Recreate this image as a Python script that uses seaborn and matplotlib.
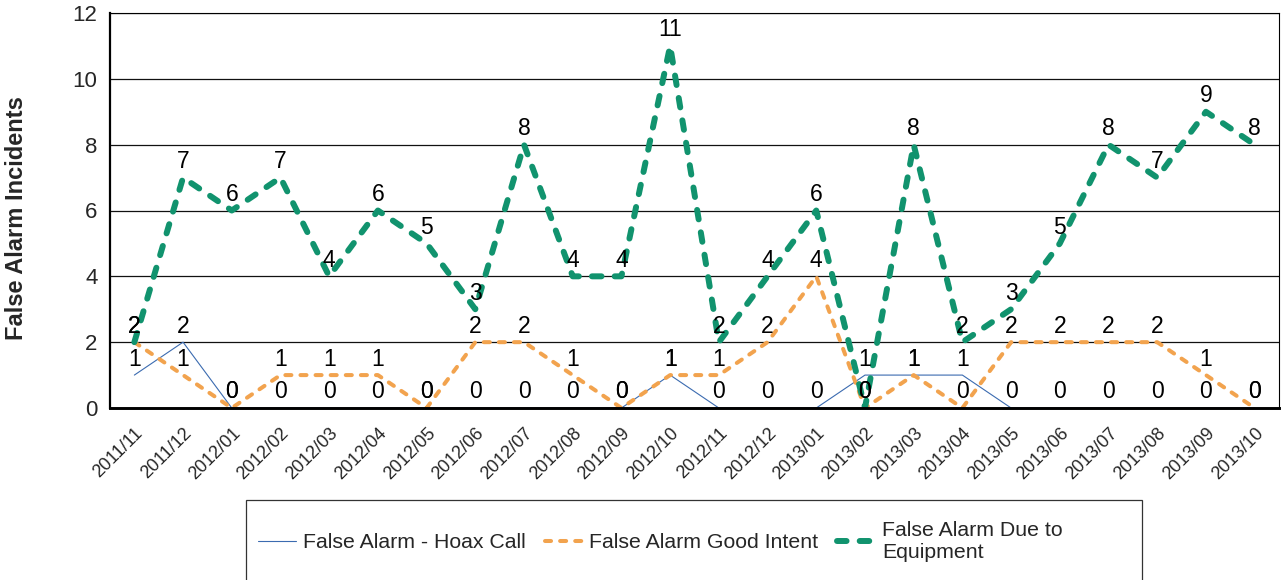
import matplotlib
matplotlib.use("Agg")
import matplotlib.pyplot as plt
import seaborn as sns
from matplotlib.patches import Rectangle

# datos
meses = ["2011/11", "2011/12", "2012/01", "2012/02", "2012/03", "2012/04",
         "2012/05", "2012/06", "2012/07", "2012/08", "2012/09", "2012/10",
         "2012/11", "2012/12", "2013/01", "2013/02", "2013/03", "2013/04",
         "2013/05", "2013/06", "2013/07", "2013/08", "2013/09", "2013/10"]
hoax_call = [1, 2, 0, 0, 0, 0, 0, 0, 0, 0, 0, 1,
             0, 0, 0, 1, 1, 1, 0, 0, 0, 0, 0, 0]
good_intent = [2, 1, 0, 1, 1, 1, 0, 2, 2, 1, 0, 1,
               1, 2, 4, 0, 1, 0, 2, 2, 2, 2, 1, 0]
equipment = [2, 7, 6, 7, 4, 6, 5, 3, 8, 4, 4, 11,
             2, 4, 6, 0, 8, 2, 3, 5, 8, 7, 9, 8]

series = [
    ("False Alarm - Hoax Call", hoax_call, "#3B6BB0", 0.8, None),
    ("False Alarm Good Intent", good_intent, "#F2A34E", 2.9, (1.5, 2.25)),
    ("False Alarm Due to\nEquipment", equipment, "#11936E", 4.3, (1.6, 2.2)),
]

sns.set_style("white")
plt.rcParams["font.family"] = ["Liberation Sans", "DejaVu Sans"]

W, H = 1283, 580
fig = plt.figure(figsize=(W / 100, H / 100), dpi=100)
ax = fig.add_axes([110 / W, 1 - 408 / H, 1169 / W, 395 / H])

pos = list(range(len(meses)))
for nombre, valores, color, lw, dashes in series:
    sns.lineplot(x=pos, y=valores, color=color, linewidth=lw, label=nombre, ax=ax)
    linea = ax.lines[-1]
    if dashes is not None:
        linea.set_dashes(dashes)
        linea.set_dash_capstyle("round")

# etiquetas de datos
for nombre, valores, color, lw, dashes in series:
    for i, v in enumerate(valores):
        ax.annotate(str(v), (i, v), xytext=(0, 16), textcoords="offset pixels",
                    ha="center", va="center", fontsize=16.5, color="black")

ax.set_xlim(-0.5, len(meses) - 0.5)
ax.set_ylim(0, 12)
ax.set_yticks(range(0, 13, 2))
ax.set_xticks(pos)
ax.set_xticklabels(meses, rotation=45, ha="right", rotation_mode="anchor",
                   fontsize=13)
ax.tick_params(axis="y", length=0, pad=9, labelsize=16)
ax.tick_params(axis="x", direction="in", length=4, color="#c8c8c8", pad=12)
ax.yaxis.grid(True, color="#111111", linewidth=0.9)
ax.set_axisbelow(True)

for lado, ancho in [("left", 1.6), ("bottom", 2.1), ("right", 0.8), ("top", 0.8)]:
    ax.spines[lado].set_visible(True)
    ax.spines[lado].set_color("black")
    ax.spines[lado].set_linewidth(ancho)

ax.set_xlabel("")
ax.set_ylabel("False Alarm Incidents", fontsize=17, fontweight="bold")
ax.yaxis.set_label_coords((28 - 110) / 1169, 0.48)

ax.legend(loc="center left", bbox_to_anchor=(258 / W, 39 / H),
          bbox_transform=fig.transFigure, ncol=3, frameon=False, fontsize=15.3,
          handlelength=1.8, handletextpad=0.3, columnspacing=0.9,
          borderpad=0, borderaxespad=0)

fig.add_artist(Rectangle((246 / W, -0.1), 896 / W, 0.1 + 80 / H,
                         transform=fig.transFigure, fill=False,
                         edgecolor="#333333", linewidth=0.9))

fig.savefig("out.png", dpi=100)
